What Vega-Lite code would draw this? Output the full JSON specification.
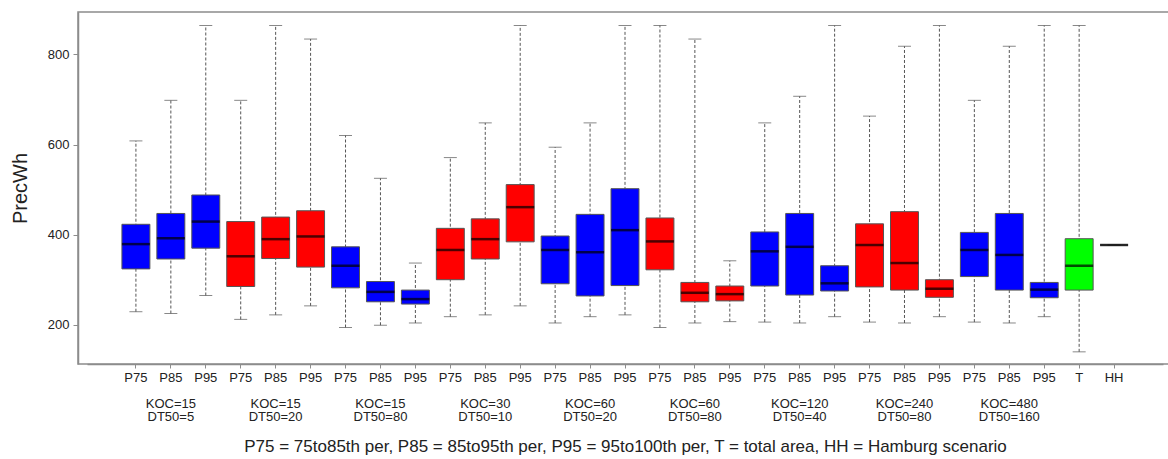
{
  "$schema": "https://vega.github.io/schema/vega-lite/v6.json",
  "width": 1094,
  "height": 352,
  "autosize": {"type": "none"},
  "padding": {"left": 78, "top": 12, "right": 0, "bottom": 95},
  "background": "white",
  "config": {
    "font": "Liberation Sans",
    "view": {"stroke": "#8c8c8c", "strokeWidth": 1.5}
  },
  "data": {
    "values": [
      {"id": "P75|KOC=15|DT50=5", "series": "A", "lo": 229, "q1": 324, "median": 379, "q3": 423, "hi": 608},
      {"id": "P85|KOC=15|DT50=5", "series": "A", "lo": 225, "q1": 346, "median": 392, "q3": 447, "hi": 698},
      {"id": "P95|KOC=15|DT50=5", "series": "A", "lo": 265, "q1": 370, "median": 429, "q3": 488, "hi": 864},
      {"id": "P75|KOC=15|DT50=20", "series": "B", "lo": 212, "q1": 285, "median": 352, "q3": 429, "hi": 698},
      {"id": "P85|KOC=15|DT50=20", "series": "B", "lo": 222, "q1": 347, "median": 390, "q3": 439, "hi": 864},
      {"id": "P95|KOC=15|DT50=20", "series": "B", "lo": 242, "q1": 328, "median": 396, "q3": 453, "hi": 834},
      {"id": "P75|KOC=15|DT50=80", "series": "A", "lo": 194, "q1": 282, "median": 331, "q3": 373, "hi": 620},
      {"id": "P85|KOC=15|DT50=80", "series": "A", "lo": 199, "q1": 251, "median": 273, "q3": 296, "hi": 525},
      {"id": "P95|KOC=15|DT50=80", "series": "A", "lo": 204, "q1": 246, "median": 257, "q3": 277, "hi": 337},
      {"id": "P75|KOC=30|DT50=10", "series": "B", "lo": 218, "q1": 300, "median": 366, "q3": 414, "hi": 571},
      {"id": "P85|KOC=30|DT50=10", "series": "B", "lo": 222, "q1": 346, "median": 390, "q3": 435, "hi": 648},
      {"id": "P95|KOC=30|DT50=10", "series": "B", "lo": 242, "q1": 384, "median": 461, "q3": 511, "hi": 864},
      {"id": "P75|KOC=60|DT50=20", "series": "A", "lo": 204, "q1": 291, "median": 366, "q3": 397, "hi": 594},
      {"id": "P85|KOC=60|DT50=20", "series": "A", "lo": 218, "q1": 264, "median": 361, "q3": 445, "hi": 648},
      {"id": "P95|KOC=60|DT50=20", "series": "A", "lo": 222, "q1": 287, "median": 410, "q3": 502, "hi": 864},
      {"id": "P75|KOC=60|DT50=80", "series": "B", "lo": 194, "q1": 322, "median": 385, "q3": 437, "hi": 864},
      {"id": "P85|KOC=60|DT50=80", "series": "B", "lo": 204, "q1": 251, "median": 271, "q3": 294, "hi": 834},
      {"id": "P95|KOC=60|DT50=80", "series": "B", "lo": 207, "q1": 253, "median": 268, "q3": 286, "hi": 342},
      {"id": "P75|KOC=120|DT50=40", "series": "A", "lo": 206, "q1": 286, "median": 363, "q3": 406, "hi": 648},
      {"id": "P85|KOC=120|DT50=40", "series": "A", "lo": 204, "q1": 266, "median": 373, "q3": 447, "hi": 707},
      {"id": "P95|KOC=120|DT50=40", "series": "A", "lo": 218, "q1": 275, "median": 292, "q3": 331, "hi": 864},
      {"id": "P75|KOC=240|DT50=80", "series": "B", "lo": 206, "q1": 284, "median": 377, "q3": 424, "hi": 663},
      {"id": "P85|KOC=240|DT50=80", "series": "B", "lo": 204, "q1": 277, "median": 337, "q3": 451, "hi": 818},
      {"id": "P95|KOC=240|DT50=80", "series": "B", "lo": 218, "q1": 261, "median": 280, "q3": 300, "hi": 864},
      {"id": "P75|KOC=480|DT50=160", "series": "A", "lo": 206, "q1": 307, "median": 366, "q3": 405, "hi": 698},
      {"id": "P85|KOC=480|DT50=160", "series": "A", "lo": 204, "q1": 277, "median": 355, "q3": 447, "hi": 818},
      {"id": "P95|KOC=480|DT50=160", "series": "A", "lo": 218, "q1": 260, "median": 278, "q3": 294, "hi": 864},
      {"id": "T", "series": "T", "lo": 140, "q1": 277, "median": 331, "q3": 391, "hi": 864},
      {"id": "HH", "series": "HH", "lo": 377, "q1": 377, "median": 377, "q3": 377, "hi": 377}
    ]
  },
  "encoding": {
    "x": {
      "field": "id",
      "type": "nominal",
      "sort": null,
      "scale": {"paddingInner": 0.2, "paddingOuter": 1, "range": [9, 1085]},
      "axis": {
        "title": "P75 = 75to85th per, P85 = 85to95th per, P95 = 95to100th per, T = total area, HH = Hamburg scenario",
        "titleFont": "Liberation Sans",
        "titleFontSize": 17,
        "titleFontWeight": "normal",
        "titleColor": "#222222",
        "titlePadding": 15,
        "labelAngle": 0,
        "labelFontSize": 13,
        "labelColor": "#222222",
        "labelLineHeight": 13.2,
        "labelPadding": 3,
        "labelOverlap": false,
        "labelExpr": "split(datum.value,'|')[0] == 'P85' ? ['P85', '\u200b', split(datum.value,'|')[1], split(datum.value,'|')[2]] : split(datum.value,'|')[0]",
        "tickSize": 4,
        "tickColor": "#8c8c8c",
        "domainColor": "#8c8c8c",
        "domainWidth": 1.5,
        "grid": false
      }
    }
  },
  "layer": [
    {
      "mark": {"type": "rule", "strokeDash": [3, 2], "color": "#555555", "strokeWidth": 1},
      "encoding": {
        "y": {
          "field": "lo",
          "type": "quantitative",
          "title": "PrecWh",
          "scale": {"domain": [113, 894], "nice": false, "zero": false},
          "axis": {
            "values": [200, 400, 600, 800],
            "grid": false,
            "titleFont": "Liberation Sans",
            "titleFontSize": 20,
            "titleFontWeight": "normal",
            "titleColor": "#222222",
            "titlePadding": 17,
            "labelFontSize": 13,
            "labelColor": "#222222",
            "labelPadding": 4,
            "tickSize": 5,
            "tickColor": "#8c8c8c",
            "domainColor": "#8c8c8c",
            "domainWidth": 1.5
          }
        },
        "y2": {"field": "hi"}
      }
    },
    {
      "mark": {"type": "tick", "color": "#555555", "thickness": 1, "size": 13},
      "encoding": {"y": {"field": "lo", "type": "quantitative", "title": "PrecWh"}}
    },
    {
      "mark": {"type": "tick", "color": "#555555", "thickness": 1, "size": 13},
      "encoding": {"y": {"field": "hi", "type": "quantitative", "title": "PrecWh"}}
    },
    {
      "mark": {"type": "bar", "stroke": "#555555", "strokeWidth": 1},
      "encoding": {
        "y": {"field": "q1", "type": "quantitative", "title": "PrecWh"},
        "y2": {"field": "q3"},
        "fill": {
          "field": "series",
          "type": "nominal",
          "scale": {"domain": ["A", "B", "T", "HH"], "range": ["#0000FF", "#FF0000", "#00FF00", "#FFFFFF"]},
          "legend": null
        }
      }
    },
    {
      "mark": {"type": "tick", "color": "#000000", "thickness": 2.5, "size": 28},
      "encoding": {"y": {"field": "median", "type": "quantitative", "title": "PrecWh"}}
    }
  ]
}
